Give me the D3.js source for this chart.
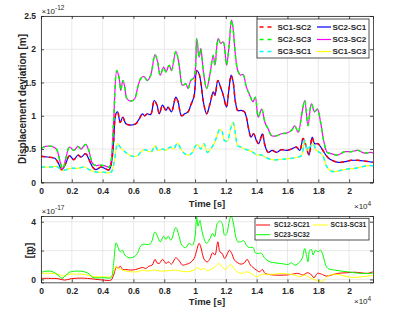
<!DOCTYPE html>
<html>
<head>
<meta charset="utf-8">
<script src="https://cdn.jsdelivr.net/npm/d3@7"></script>
<style>
body { margin: 0; background: #fff; }
text { font-family: "Liberation Sans", Arial, sans-serif; fill: #262626; }
</style>
</head>
<body>
<svg id="chart" width="415" height="332"></svg>
<script>
// top panel, values in 1e-12 m, times in s
const tUpper = [0,300,700,1000,1250,1420,1600,1850,2130,2400,2600,2900,3100,3350,3600,3800,4100,4430,4540,4710,4920,5080,5180,5310,5440,5570,5830,6090,6260,6470,6690,6900,7120,7400,7570,7740,7960,8110,8320,8470,8750,8970,9180,9400,9550,9720,9940,10110,10260,10370,10540,10750,10970,11180,11290,11500,11660,11830,12040,12190,12370,12470,12620,12770,12950,13120,13330,13550,13760,13910,14100,14320,14540,14750,14970,15290,15610,15940,16260,16470,16690,16950,17120,17330,17550,17760,17940,18150,18370,18580,18840,19270,19700,20130,20560,20990,21420,21550];
const upper = [0.51,0.54,0.54,0.50,0.30,0.20,0.35,0.53,0.48,0.54,0.50,0.57,0.48,0.28,0.25,0.26,0.25,0.23,0.30,0.90,1.68,1.56,1.38,1.53,1.43,1.26,1.22,1.26,1.41,1.56,1.59,1.53,1.61,1.92,1.81,1.61,1.73,1.66,1.76,1.68,1.97,1.76,1.46,1.48,1.41,1.53,1.58,2.16,1.88,2.01,1.66,1.41,1.63,1.91,1.76,2.16,2.09,2.11,1.76,2.01,2.44,2.31,1.91,1.68,1.61,1.62,1.43,1.31,1.21,1.28,0.98,1.10,0.90,0.80,0.70,0.70,0.73,0.74,0.78,0.85,0.75,1.06,1.23,0.85,1.18,1.06,1.10,0.90,0.60,0.45,0.43,0.41,0.46,0.46,0.48,0.44,0.45,0.44];

const tMiddle = [0,400,900,1100,1350,1600,1850,2130,2400,2600,2900,3100,3350,3550,3900,4200,4430,4580,4710,4860,4970,5140,5310,5510,5830,6150,6370,6580,6730,6900,7120,7350,7530,7680,7890,8110,8250,8470,8750,8900,9120,9330,9550,9720,9940,10110,10260,10400,10540,10750,10970,11180,11290,11480,11660,11830,12040,12190,12340,12470,12620,12770,12990,13200,13330,13480,13630,13800,13980,14130,14370,14540,14750,15000,15290,15610,15940,16260,16580,16800,17010,17220,17400,17600,17760,17980,18240,18520,18730,19300,19700,20130,20560,20990,21550];
const middle = [0.39,0.38,0.36,0.30,0.19,0.28,0.40,0.34,0.41,0.38,0.43,0.35,0.23,0.19,0.23,0.20,0.19,0.30,0.60,1.03,1.06,0.90,0.98,0.88,0.86,0.88,0.95,1.03,1.00,1.03,1.02,1.23,1.16,1.03,1.16,1.08,1.13,1.06,1.28,1.21,1.00,1.03,1.06,1.16,1.30,1.68,1.63,1.46,1.21,1.03,1.18,1.36,1.31,1.53,1.43,1.31,1.13,1.38,1.61,1.51,1.21,1.08,1.08,1.06,0.98,0.80,0.68,0.73,0.63,0.58,0.73,0.55,0.45,0.48,0.45,0.49,0.48,0.50,0.53,0.48,0.66,0.53,0.41,0.68,0.58,0.58,0.50,0.40,0.35,0.30,0.31,0.33,0.33,0.32,0.30];

const tLower = [0,700,1000,1200,1420,1630,1960,2400,2810,3140,3460,4100,4540,4750,4970,5140,5350,5610,5940,6260,6580,6800,7010,7200,7400,7600,7890,8110,8390,8600,8860,9080,9330,9610,9830,10040,10190,10370,10580,10800,11010,11230,11400,11610,11760,11900,12090,12300,12470,12620,12770,12990,13200,13480,13760,14020,14300,14540,14970,15400,15830,16260,16690,16900,17120,17280,17440,17660,17870,18080,18300,18520,18730,19050,19480,19910,20340,20770,21200,21550];
const lower = [0.23,0.23,0.24,0.21,0.18,0.19,0.21,0.21,0.23,0.19,0.16,0.15,0.15,0.30,0.58,0.53,0.48,0.43,0.39,0.40,0.48,0.49,0.46,0.47,0.55,0.48,0.50,0.48,0.53,0.50,0.59,0.50,0.43,0.41,0.45,0.55,0.56,0.50,0.58,0.45,0.50,0.58,0.68,0.80,0.76,0.63,0.62,0.80,0.90,0.73,0.55,0.53,0.50,0.48,0.45,0.41,0.41,0.38,0.34,0.34,0.35,0.36,0.38,0.40,0.63,0.48,0.53,0.58,0.48,0.45,0.40,0.25,0.18,0.16,0.18,0.20,0.21,0.23,0.25,0.25];

// bottom panel, values in 1e-17 m
const tGreen = [0,450,770,1100,1350,1630,1850,2390,2820,3140,3350,4100,4540,4710,4880,5010,5140,5290,5440,5720,6040,6260,6470,6690,6900,7120,7400,7570,7740,7960,8110,8260,8430,8750,8970,9140,9400,9610,9830,9980,10110,10190,10320,10400,10540,10750,10970,11140,11270,11440,11610,11760,11920,12060,12190,12340,12470,12620,12770,12950,13160,13330,13480,13760,13910,14090,14300,14540,14860,15180,15610,16040,16260,16470,16800,16950,17120,17250,17330,17440,17550,17660,17810,17980,18150,18300,18480,18620,19050,19480,19910,20340,20770,21550];
const green = [0.50,0.58,0.53,0.30,0.07,0.30,0.50,0.58,0.53,0.37,0.14,0.12,0.12,1.10,2.54,2.20,1.92,2.03,1.69,1.50,1.57,1.80,2.33,2.45,2.42,2.49,3.30,2.96,2.60,3.00,2.77,3.00,2.72,3.60,2.96,2.38,2.20,2.50,2.38,2.84,4.34,3.70,4.10,3.65,2.96,2.50,2.84,3.19,2.96,3.88,4.06,3.88,3.07,3.19,3.88,4.41,4.00,3.07,2.61,2.61,2.68,2.38,2.22,2.22,1.85,1.80,1.82,1.45,1.22,1.15,1.10,1.04,1.15,0.99,1.22,1.45,2.15,1.57,1.22,2.03,2.08,1.69,2.03,1.92,2.03,1.69,0.99,0.76,0.65,0.58,0.53,0.46,0.42,0.42];

const tRed = [0,670,1100,1530,1960,2600,3030,3460,4100,4540,4710,4900,5010,5140,5310,5500,5830,6150,6370,6580,6800,7010,7220,7400,7530,7680,7890,8110,8260,8470,8750,8970,9180,9460,9680,9940,10110,10260,10370,10470,10620,10800,10970,11140,11290,11480,11610,11760,11920,12060,12230,12380,12560,12770,12990,13200,13380,13590,13760,13980,14190,14370,14540,14750,15180,15830,16260,16690,17000,17280,17500,17720,17940,18200,18520,18840,19270,19800,20340,20770,21200,21550];
const red = [0.07,0.07,0.05,-0.05,0.05,0.09,0.07,0.02,-0.05,-0.05,0.30,0.88,0.76,0.92,0.69,0.69,0.65,0.69,0.76,0.83,0.76,0.92,1.00,1.39,1.15,1.11,1.39,1.11,1.22,1.06,1.50,1.29,1.00,1.06,1.15,1.45,2.03,2.50,2.26,1.80,1.34,1.22,1.45,1.85,1.69,2.61,1.92,1.80,1.45,1.69,2.03,1.80,1.34,1.15,1.06,1.15,1.39,1.00,0.83,0.65,0.53,0.69,0.42,0.35,0.30,0.30,0.35,0.42,0.30,0.46,0.37,0.12,0.42,0.37,0.23,0.30,0.42,0.46,0.50,0.46,0.42,0.53];

const tYellow = [0,670,1100,1420,1750,2170,2820,3250,3570,4100,4540,4750,4880,5010,5180,5510,5830,6260,6580,6900,7350,7780,8210,8750,9080,9510,9940,10150,10370,10580,10800,11120,11340,11550,11760,11980,12300,12520,12730,13050,13380,13700,14020,14300,14750,15180,15610,16040,16470,16800,17120,17440,17760,17980,18300,18620,19050,19480,19910,20340,20770,21200,21550];
const yellow = [0.42,0.42,0.37,0.23,0.35,0.37,0.35,0.23,0.18,0.18,0.18,0.65,0.92,0.76,0.69,0.58,0.53,0.53,0.65,0.58,0.65,0.58,0.60,0.65,0.58,0.53,0.65,0.81,0.69,0.76,0.60,0.76,0.92,1.10,0.88,0.69,1.04,0.76,0.53,0.42,0.53,0.37,0.18,0.35,0.35,0.37,0.42,0.37,0.30,0.18,0.30,0.12,-0.02,-0.09,-0.12,0.23,0.37,0.30,0.18,0.14,0.18,0.23,0.28];

const xTicks = [0,2000,4000,6000,8000,10000,12000,14000,16000,18000,20000];
const topYTicks = [0,0.5,1,1.5,2,2.5];
const botYTicks = [0,2,4];

const topLegend = ["SC1-SC2","SC2-SC3","SC3-SC1","SC2-SC1","SC3-SC2","SC1-SC3"];
const botLegend = ["SC12-SC21","SC23-SC32","SC13-SC31"];

const svg = d3.select("#chart");
const left = 41, right = 373;
const x = d3.scaleLinear().domain([0, 21550]).range([left, right]);
const yTop = d3.scaleLinear().domain([0, 2.5]).range([182.3, 16]);
const yBot = d3.scaleLinear().domain([-0.2, 4.4]).range([282.3, 216]);
const axisCol = "#262626";
const dashPat = "4,4";

function fmtX(d){ return d === 0 ? "0" : d3.format("~g")(d / 1e4); }

function panel(y, yTicks, id){
    const top = y.range()[1], bottom = y.range()[0];
    const g = svg.append("g");
    // grid
    g.append("g").selectAll("line").data(xTicks).join("line")
        .attr("x1", d => x(d)).attr("x2", d => x(d))
        .attr("y1", top).attr("y2", bottom)
        .attr("stroke", "#e3e3e3").attr("stroke-width", 0.8);
    g.append("g").selectAll("line").data(yTicks).join("line")
        .attr("x1", left).attr("x2", right)
        .attr("y1", d => y(d)).attr("y2", d => y(d))
        .attr("stroke", "#e3e3e3").attr("stroke-width", 0.8);
    svg.append("clipPath").attr("id", id).append("rect")
        .attr("x", left).attr("y", top).attr("width", right - left).attr("height", bottom - top);
    return g;
}

function axes(y, yTicks){
    const top = y.range()[1], bottom = y.range()[0];
    const ax = svg.append("g");
    ax.append("g").attr("transform", `translate(0,${bottom})`)
        .call(d3.axisBottom(x).tickValues(xTicks).tickFormat(fmtX).tickSize(-3).tickPadding(6));
    ax.append("g").attr("transform", `translate(0,${top})`)
        .call(d3.axisTop(x).tickValues(xTicks).tickFormat("").tickSize(-3));
    ax.append("g").attr("transform", `translate(${left},0)`)
        .call(d3.axisLeft(y).tickValues(yTicks).tickFormat(d3.format("~g")).tickSize(-3).tickPadding(5));
    ax.append("g").attr("transform", `translate(${right},0)`)
        .call(d3.axisRight(y).tickValues(yTicks).tickFormat("").tickSize(-3));
    ax.selectAll(".domain").attr("stroke", axisCol).attr("stroke-width", 0.8);
    ax.selectAll(".tick line").attr("stroke", axisCol).attr("stroke-width", 0.8);
    ax.selectAll(".tick text").attr("fill", axisCol)
        .style("font-size", "8.5px").style("font-weight", "bold")
        .style("font-family", "'Liberation Sans', Arial, sans-serif");
}

function drawLine(ts, vs, y, clip, color, width, dash){
    const line = d3.line().x((d, i) => x(ts[i])).y(d => y(d)).curve(d3.curveCatmullRom);
    svg.append("path").datum(vs)
        .attr("clip-path", `url(#${clip})`)
        .attr("d", line)
        .attr("fill", "none")
        .attr("stroke", color)
        .attr("stroke-width", width)
        .attr("stroke-dasharray", dash || null);
}

function exponent(xp, yp, base, exp){
    const t = svg.append("text").attr("x", xp).attr("y", yp).style("font-size", "8px");
    t.append("tspan").text(base);
    t.append("tspan").attr("dy", -3.5).style("font-size", "6.5px").text(exp);
}

// ---- top panel
panel(yTop, topYTicks, "clipTop");
drawLine(tMiddle, middle, yTop, "clipTop", "#0000ff", 1.2);
drawLine(tUpper, upper, yTop, "clipTop", "#ff00ff", 1.2);
drawLine(tLower, lower, yTop, "clipTop", "#ffff00", 1.2);
drawLine(tMiddle, middle, yTop, "clipTop", "#ff0000", 1.5, dashPat);
drawLine(tUpper, upper, yTop, "clipTop", "#00ff00", 1.5, dashPat);
drawLine(tLower, lower, yTop, "clipTop", "#00ffff", 1.5, dashPat);
axes(yTop, topYTicks);

// ---- bottom panel
panel(yBot, botYTicks, "clipBot");
drawLine(tRed, red, yBot, "clipBot", "#ff0000", 1);
drawLine(tYellow, yellow, yBot, "clipBot", "#ffff00", 1);
drawLine(tGreen, green, yBot, "clipBot", "#00ff00", 1);
axes(yBot, botYTicks);

// labels
svg.append("text").attr("transform", "translate(22,99) rotate(-90)")
    .attr("text-anchor", "middle").attr("dy", "0.35em")
    .style("font-size", "10px").style("font-weight", "bold")
    .text("Displacement deviation [m]");
svg.append("text").attr("transform", "translate(29.5,250.5) rotate(-90)")
    .attr("text-anchor", "middle").attr("dy", "0.35em")
    .style("font-size", "10px").style("font-weight", "bold")
    .text("[m]");
svg.append("text").attr("x", 207).attr("y", 206.5).attr("text-anchor", "middle")
    .style("font-size", "9.5px").style("font-weight", "bold").text("Time [s]");
svg.append("text").attr("x", 207).attr("y", 305).attr("text-anchor", "middle")
    .style("font-size", "9.5px").style("font-weight", "bold").text("Time [s]");

exponent(41.5, 13.5, "\u00d710", "-12");
exponent(41.5, 213.5, "\u00d710", "-17");
exponent(354, 209, "\u00d710", "4");
exponent(354, 304, "\u00d710", "4");

// ---- legends
function legend(names, colors, dashes, widths, box, cols, rows, fs){
    svg.append("rect").attr("x", box[0]).attr("y", box[1])
        .attr("width", box[2] - box[0]).attr("height", box[3] - box[1])
        .attr("fill", "#fff").attr("stroke", axisCol).attr("stroke-width", 0.8);
    names.forEach((n, i) => {
        const c = cols[i], r = rows[i];
        svg.append("line").attr("x1", c[0]).attr("x2", c[1]).attr("y1", r).attr("y2", r)
            .attr("stroke", colors[i]).attr("stroke-width", widths[i])
            .attr("stroke-dasharray", dashes[i] || null);
        svg.append("text").attr("x", c[2]).attr("y", r).attr("dy", "0.35em")
            .style("font-size", fs).style("font-weight", "bold").text(n);
    });
}
const c1 = [259.5, 274, 277.5], c2 = [317, 331, 332.5];
legend(topLegend,
    ["#ff0000", "#00ff00", "#00ffff", "#0000ff", "#ff00ff", "#ffff00"],
    [dashPat, dashPat, dashPat, null, null, null],
    [1.5, 1.5, 1.5, 1.2, 1.2, 1.2],
    [257, 19, 369, 58],
    [c1, c1, c1, c2, c2, c2],
    [27, 39.5, 51.5, 27, 39.5, 51.5], "8px");
const b1 = [256, 270, 274], b2 = [313, 328, 330.5];
legend(botLegend,
    ["#ff0000", "#00ff00", "#ffff00"],
    [null, null, null],
    [1, 1, 1],
    [255, 218.3, 369, 240],
    [b1, b1, b2],
    [225, 234.7, 225], "6.7px");
</script>
</body>
</html>
